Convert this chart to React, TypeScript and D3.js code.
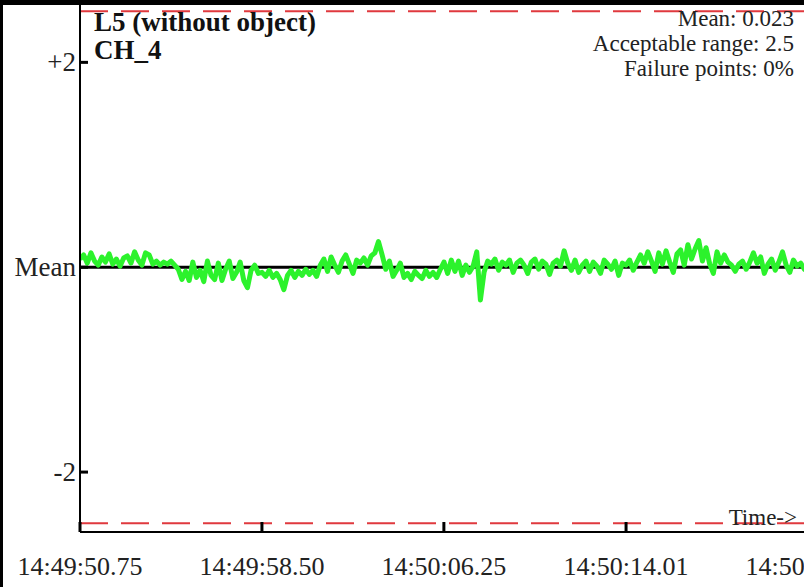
import * as d3 from "d3";
import { useEffect } from "react";

// channel readings, offset from the mean (units) left to right
const deviation: number[] = [
  0.08, 0.12, 0.04, 0.14, 0.06, 0.02, 0.1, 0.05, 0.13, 0.03, 0.08, 0.01, 0.09, 0.11, 0.04, 0.15, 0.07, 0.02, 0.14, 0.12, 0.03, 0.06, 0.02, 0.05, 0.03, 0.06, 0.02,
  -0.02, -0.12, -0.04, -0.13, 0.05, -0.1, -0.03, -0.14, 0.06, -0.08, -0.12, 0.04, -0.13, -0.02, 0.06, -0.11, -0.05, 0.05, -0.13, -0.2, -0.03, 0.02, -0.06,
  -0.05, -0.09, -0.03, -0.1, -0.06, -0.12, -0.22, -0.08, -0.03, -0.1, -0.04, -0.08, -0.02, -0.07, -0.03, -0.09,
  0.02, 0.08, -0.04, 0.1, 0.02, -0.05, 0.06, 0.12, 0.03, -0.06, 0.07, 0.04, 0.09, 0.02, 0.11, 0.14, 0.25, 0.12,
  -0.02, 0.06, -0.09, -0.03, 0.04, -0.1, -0.06, -0.12, -0.04, -0.08, -0.11, -0.03, -0.09, -0.05, -0.1, -0.02,
  0.05, -0.06, 0.07, -0.04, 0.06, -0.08, 0.02, -0.05, 0.01, 0.15, -0.32, -0.05,
  0.06, 0.03, 0.08, -0.03, 0.05, 0.02, 0.07, -0.05, 0.04, 0.07, 0.02, -0.06, 0.05, 0.08, -0.02, 0.06, 0.03, -0.07, 0.04, 0.07, 0.01, 0.16,
  0.04, -0.03, 0.07, -0.05, 0.02, 0.06, -0.04, 0.05, 0.01, -0.06, 0.07, 0.03, -0.02, 0.06, -0.08, 0.04, 0.02, 0.07, -0.03, 0.05,
  0.12, 0.04, 0.15, 0.06, -0.04, 0.14, 0.03, 0.16, 0.05, -0.05, 0.13, 0.17, 0.02, 0.22, 0.08, 0.18, 0.26, 0.06, 0.19, 0.03, -0.06, 0.15, 0.04, 0.12, 0.05,
  0.02, -0.04, 0.03, 0.06, -0.02, 0.05, 0.14, 0.04, 0.1, -0.06, 0.03, 0.08, -0.03, 0.05, 0.15, 0.02, -0.05, 0.07, 0.01, 0.04, -0.02, 0.03,
];

// seconds since 14:49:50.75 for each x tick, and their labels
const tickSeconds = [0, 7.75, 15.5, 23.26, 31.01];
const tickLabels = ["14:49:50.75", "14:49:58.50", "14:50:06.25", "14:50:14.01", "14:50:21.76"];
const sampleStep = 31.01 / 200; // seconds between samples

const yTicks = [2, 0, -2];
const yTickLabels = ["+2", "Mean", "-2"];

const title = "L5 (without object)";
const channel = "CH_4";
const infoLines = ["Mean: 0.023", "Acceptable range: 2.5", "Failure points: 0%"];
const acceptableRange = 2.5;

const width = 804;
const height = 587;
const font = "'Liberation Serif', 'Times New Roman', serif";

export default function App() {
  useEffect(() => {
    document.body.style.margin = "0";
  }, []);

  const left = 80;
  const top = 5;
  const bottom = 532;

  const x = d3.scaleLinear().domain([0, 31.01]).range([left, 808]);
  const y = d3.scaleLinear().domain([-2.585, 2.56]).range([bottom, top]);

  const line = d3
    .line<number>()
    .x((_, i) => x(i * sampleStep))
    .y((d) => y(d));

  return (
    <svg width={width} height={height} style={{ display: "block", background: "#fff" }} fontFamily={font}>
      <defs>
        <clipPath id="plot">
          <rect x={left} y={top} width={width - left} height={bottom - top} />
        </clipPath>
      </defs>

      {/* outer frame */}
      <rect x={0} y={0} width={width} height={5} fill="#000" />
      <rect x={0} y={0} width={3} height={height} fill="#000" />

      {/* acceptable range limits */}
      {[acceptableRange, -acceptableRange].map((v) => (
        <line key={v} x1={left} x2={width} y1={y(v)} y2={y(v)} stroke="#e0393e" strokeWidth={2} strokeDasharray="28,13" />
      ))}

      {/* mean line */}
      <line x1={left} x2={width} y1={y(0)} y2={y(0)} stroke="#000" strokeWidth={3} />

      <path d={line(deviation) ?? ""} fill="none" stroke="#2cf22c" strokeWidth={5} strokeLinejoin="round" clipPath="url(#plot)" />

      {/* axes */}
      <line x1={left} x2={left} y1={top} y2={bottom} stroke="#000" strokeWidth={2} />
      <line x1={left} x2={width} y1={bottom} y2={bottom} stroke="#000" strokeWidth={2} />

      {yTicks.map((v, i) => (
        <g key={v}>
          <line x1={left} x2={left + 8} y1={y(v)} y2={y(v)} stroke="#000" strokeWidth={3} />
          <text x={left - 4} y={y(v)} dy="0.33em" textAnchor="end" fontSize={27} fill="#222">
            {yTickLabels[i]}
          </text>
        </g>
      ))}

      {tickSeconds.map((s, i) => (
        <g key={s}>
          <line x1={x(s)} x2={x(s)} y1={bottom} y2={bottom - 10} stroke="#000" strokeWidth={3} />
          <text x={x(s)} y={575} textAnchor="middle" fontSize={26} fill="#222">
            {tickLabels[i]}
          </text>
        </g>
      ))}

      <text x={797} y={525} textAnchor="end" fontSize={23} fill="#222">
        Time-&gt;
      </text>

      <text x={94} y={31} fontSize={27} fontWeight="bold" fill="#111">
        {title}
      </text>
      <text x={94} y={59} fontSize={27} fontWeight="bold" fill="#111">
        {channel}
      </text>

      {infoLines.map((t, i) => (
        <text key={t} x={794} y={26 + i * 25} textAnchor="end" fontSize={23} fill="#222">
          {t}
        </text>
      ))}
    </svg>
  );
}
